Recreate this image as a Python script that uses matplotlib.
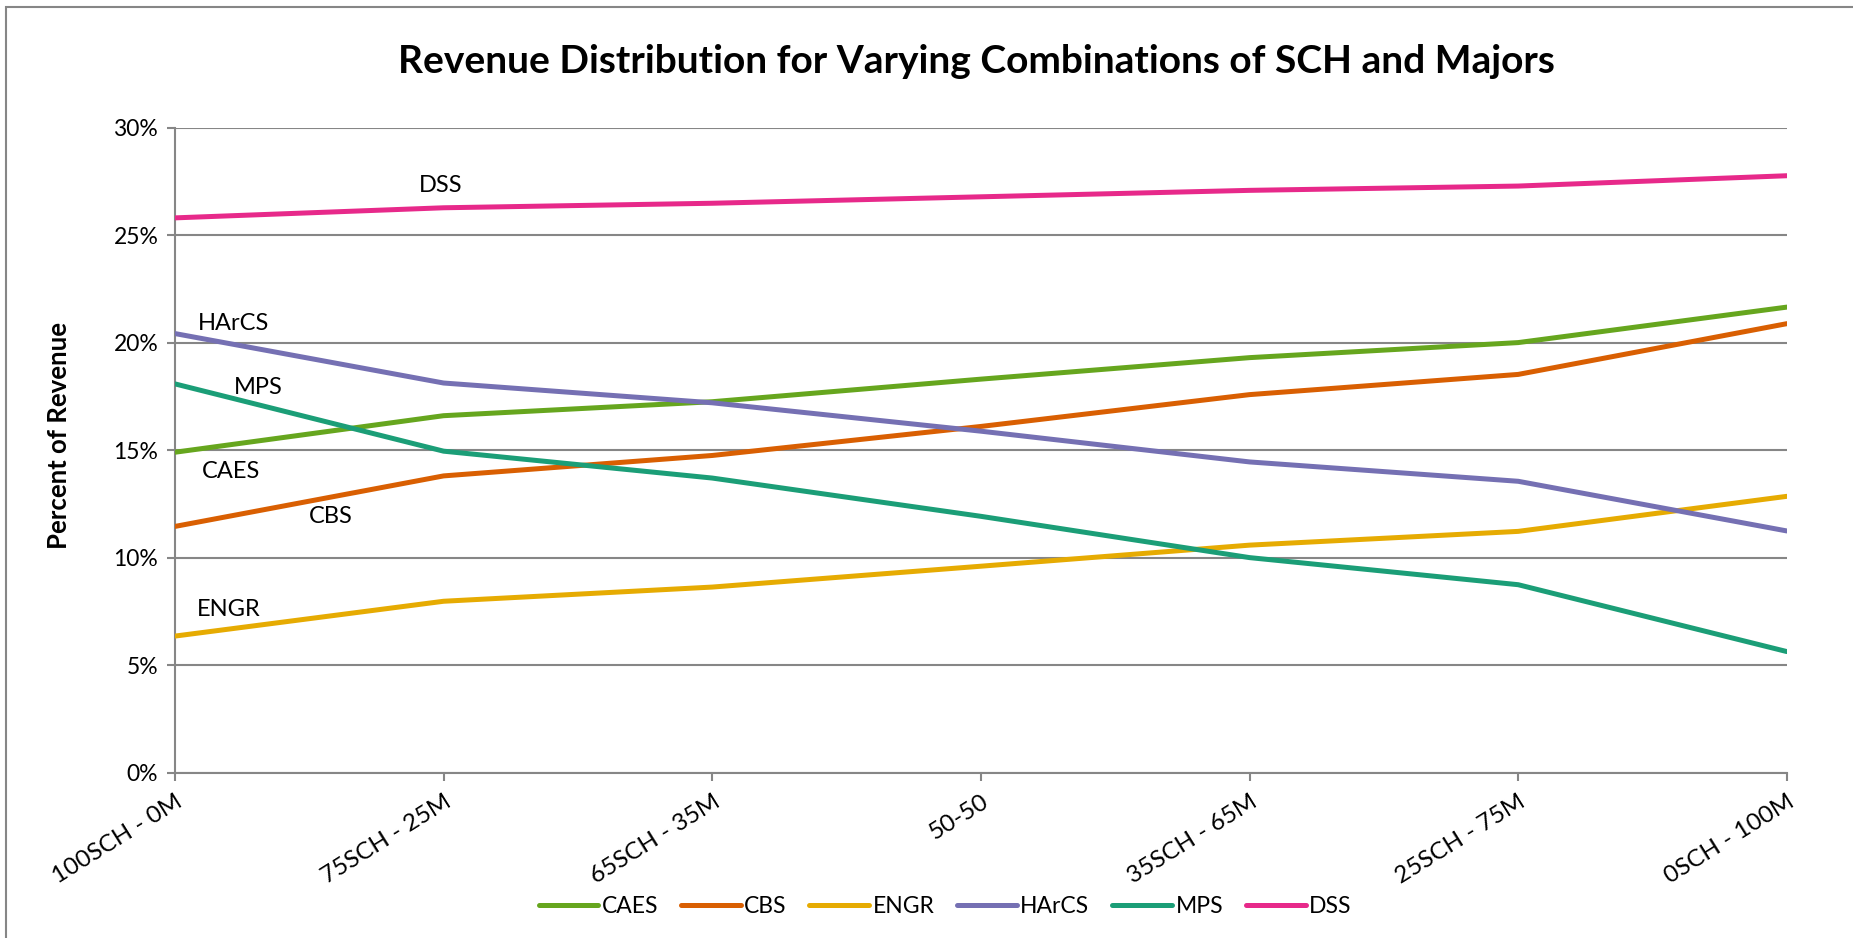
import matplotlib
matplotlib.use("Agg")
import matplotlib.pyplot as plt
from matplotlib.patches import Rectangle
from matplotlib.ticker import PercentFormatter

plt.rcParams['font.family'] = ['Lato', 'DejaVu Sans']

# Data (percent of revenue)
categories = ["100SCH - 0M", "75SCH - 25M", "65SCH - 35M", "50-50",
              "35SCH - 65M", "25SCH - 75M", "0SCH - 100M"]
caes = [14.9, 16.6, 17.25, 18.3, 19.3, 20.0, 21.65]
cbs = [11.45, 13.8, 14.75, 16.1, 17.58, 18.52, 20.88]
engr = [6.35, 7.97, 8.63, 9.6, 10.58, 11.22, 12.85]
harcs = [20.42, 18.12, 17.2, 15.88, 14.45, 13.55, 11.24]
mps = [18.08, 14.95, 13.7, 11.92, 10.0, 8.74, 5.63]
dss = [25.8, 26.27, 26.48, 26.78, 27.08, 27.28, 27.76]

series_names = ["CAES", "CBS", "ENGR", "HArCS", "MPS", "DSS"]
series_vals = [caes, cbs, engr, harcs, mps, dss]
colors = ["#66a61e", "#d95f02", "#e6ab02", "#7570b3", "#1b9e77", "#e7298a"]

# in-chart labels (x in category units, y in percent)
label_pos = {"DSS": (0.99, 27.3), "HArCS": (0.22, 20.9), "MPS": (0.31, 17.9),
             "CAES": (0.21, 14.0), "CBS": (0.58, 11.9), "ENGR": (0.2, 7.6)}

fig = plt.figure(figsize=(18.53, 9.38), dpi=100)
ax = fig.add_axes([0.0944, 0.1763, 0.8699, 0.6877])

x = list(range(len(categories)))
for name, vals, c in zip(series_names, series_vals, colors):
    ax.plot(x, vals, color=c, lw=3.6, label=name, solid_capstyle='round', zorder=3)

for name, (lx, ly) in label_pos.items():
    ax.text(lx, ly, name, fontsize=17, ha='center', va='center')

ax.set_xlim(0, len(categories) - 1)
ax.set_ylim(0, 30)
ax.set_yticks(range(0, 31, 5))
ax.yaxis.set_major_formatter(PercentFormatter(decimals=0))
ax.set_xticks(x)
ax.set_xticklabels(categories, rotation=32, ha='right', rotation_mode='anchor', fontsize=17.5)
ax.tick_params(axis='y', labelsize=16.5, length=6, color='#868686', width=1.5, pad=6)
ax.tick_params(axis='x', length=6, color='#868686', width=1.5, pad=7)
ax.grid(axis='y', color='#868686', lw=1.5)
ax.set_axisbelow(True)
for s in ['top', 'right']:
    ax.spines[s].set_visible(False)
for s in ['left', 'bottom']:
    ax.spines[s].set_color('#868686')
    ax.spines[s].set_linewidth(1.5)

ax.set_ylabel("Percent of Revenue", fontsize=18.5, fontweight='bold')
ax.yaxis.set_label_coords(-0.0645, 0.522)
fig.text(0.527, 0.9345, "Revenue Distribution for Varying Combinations of SCH and Majors",
         fontsize=28, fontweight='bold', ha='center', va='center')

ax.legend(loc='center', bbox_to_anchor=(0.51, 0.034), bbox_transform=fig.transFigure,
          ncol=6, frameon=False, fontsize=16.5, handlelength=2.6, handletextpad=0.15,
          columnspacing=1.0)

# outer chart border
fig.patches.append(Rectangle((6 / 1853, -0.02), 1.05, 1 - 7 / 938 + 0.02,
                             transform=fig.transFigure, fill=False,
                             edgecolor='#868686', lw=1.5))

fig.savefig("out.png", dpi=100)
